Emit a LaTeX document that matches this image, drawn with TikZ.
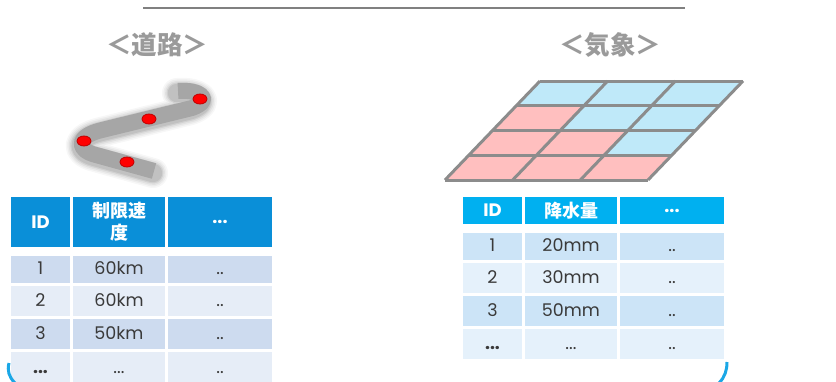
\documentclass[tikz,border=0pt]{standalone}
\usepackage{fontspec}
\setmainfont{Poppins}
\newfontfamily\cjk{Noto Sans CJK JP}
\definecolor{titlegray}{HTML}{9A9A9A}
\definecolor{rulegray}{HTML}{808080}
\definecolor{roadgray}{HTML}{A6A6A6}
\definecolor{gridline}{HTML}{8C8C8C}
\definecolor{cellblue}{HTML}{BFE9F9}
\definecolor{cellpink}{HTML}{FFBFBF}
\definecolor{hdrL}{HTML}{0A8FD8}
\definecolor{hdrR}{HTML}{00B0F0}
\definecolor{rowLa}{HTML}{CDDBEF}
\definecolor{rowLb}{HTML}{E6EDF7}
\definecolor{rowRa}{HTML}{CCE4F7}
\definecolor{rowRb}{HTML}{E5F1FB}
\definecolor{txtgray}{HTML}{3A3A3A}
\definecolor{bracketblue}{HTML}{1AA7E6}
\tikzset{
  cell/.style={anchor=north west, inner sep=0pt, outer sep=0pt,
    text height=13pt, text depth=3pt, text=txtgray,
    font=\fontsize{17.5}{20}\selectfont},
  hcell/.style={anchor=north west, inner sep=0pt, outer sep=0pt, text=white,
    align=center, font=\fontsize{18}{22}\selectfont\bfseries},
  title/.style={text=titlegray, font=\cjk\bfseries\fontsize{25.5}{28}\selectfont},
  stop/.style={ellipse, draw=red!75!black, fill=red, line width=0.8pt,
    minimum width=14pt, minimum height=10pt, inner sep=0pt},
}
% data rows of the road table (left) and the weather table (right)
\newcommand{\roadrow}[7]{%
  \node[cell, fill=#4, minimum width=59pt, minimum height=#3pt] (#1a) at (11,#2) {#5};
  \node[cell, fill=#4, minimum width=92pt, minimum height=#3pt] (#1b) at (73,#2) {#6};
  \node[cell, fill=#4, minimum width=104pt, minimum height=#3pt] (#1c) at (168,#2) {#7};}
\newcommand{\wxrow}[7]{%
  \node[cell, fill=#4, minimum width=59pt, minimum height=#3pt] (#1a) at (463,#2) {#5};
  \node[cell, fill=#4, minimum width=92pt, minimum height=#3pt] (#1b) at (525,#2) {#6};
  \node[cell, fill=#4, minimum width=104pt, minimum height=#3pt] (#1c) at (620,#2) {#7};}
\usetikzlibrary{shapes.geometric}
\begin{document}
\begin{tikzpicture}[x=1pt, y=-1pt]
\useasboundingbox (0,0) rectangle (836,381);
\clip (0,0) rectangle (836,381);

% top rule
\coordinate (ruleL) at (143,8);
\coordinate (ruleR) at (685,8);
\draw[rulegray, line width=2.5pt] (ruleL) -- (ruleR);

% titles
\node[title] (roadtitle) at (157,45) {＜道路＞};
\node[title] (wxtitle) at (610,45) {＜気象＞};

% road with soft shadow
\def\roadpath{(178,91) .. controls (200,89) and (214,100) .. (192,108)
  -- (102,130) .. controls (76,136) and (76,150) .. (96,155) -- (154,171)}
\foreach \w/\o in {30/0.03, 27/0.04, 24/0.05, 21/0.07, 18.5/0.08}
  \draw[black, opacity=\o, line width=\w pt, line join=round, line cap=round, shift={(-1,2)}] \roadpath;
\draw[roadgray, line width=16pt, line join=round] \roadpath;
\node[stop] (stop1) at (200,99) {};
\node[stop] (stop2) at (149,119) {};
\node[stop] (stop3) at (84,141) {};
\node[stop] (stop4) at (127,162) {};

% weather grid (sheared 3x4 cells)
\begin{scope}[shift={(540,81)}, x={(203pt,0pt)}, y={(-95pt,-99pt)}]
  \foreach \c/\r/\col in {0/0/cellblue,1/0/cellblue,2/0/cellblue,
                          0/1/cellpink,1/1/cellblue,2/1/cellblue,
                          0/2/cellpink,1/2/cellpink,2/2/cellblue,
                          0/3/cellpink,1/3/cellpink,2/3/cellpink}
    \fill[\col] ({\c/3},{\r/4}) -- ({(\c+1)/3},{\r/4}) -- ({(\c+1)/3},{(\r+1)/4})
      -- ({\c/3},{(\r+1)/4}) -- cycle;
  \foreach \r in {0,1,2,3,4}
    \draw[gridline, line width=3pt] (0,{\r/4}) -- (1,{\r/4});
  \foreach \c in {0,1,2,3}
    \draw[gridline, line width=3pt] ({\c/3},0) -- ({\c/3},1);
\end{scope}

% road table
\node[hcell, fill=hdrL, minimum width=59pt, minimum height=50pt] (rhA) at (11,197) {ID};
\node[hcell, fill=hdrL, minimum width=92pt, minimum height=50pt] (rhB) at (73,197) {\cjk\bfseries 制限速\\\cjk\bfseries 度};
\node[hcell, fill=hdrL, minimum width=104pt, minimum height=50pt] (rhC) at (168,197) {...};
\roadrow{r1}{256}{27}{rowLa}{1}{60km}{..}
\roadrow{r2}{286}{30}{rowLb}{2}{60km}{..}
\roadrow{r3}{319}{30}{rowLa}{3}{50km}{..}
\roadrow{r4}{352}{32}{rowLb}{\bfseries...}{...}{..}

% weather table
\node[hcell, fill=hdrR, minimum width=59pt, minimum height=27pt] (whA) at (463,197) {ID};
\node[hcell, fill=hdrR, minimum width=92pt, minimum height=27pt] (whB) at (525,197) {\cjk\bfseries 降水量};
\node[hcell, fill=hdrR, minimum width=104pt, minimum height=27pt] (whC) at (620,197) {...};
\wxrow{w1}{233}{27}{rowRa}{1}{20mm}{..}
\wxrow{w2}{263}{30}{rowRb}{2}{30mm}{..}
\wxrow{w3}{296}{30}{rowRa}{3}{50mm}{..}
\wxrow{w4}{329}{30}{rowRb}{\bfseries...}{...}{..}

% bracket ends along the bottom edge
\draw[bracketblue, line width=3pt] (9,363) .. controls (7,371) and (9,377) .. (15,383);
\draw[bracketblue, line width=3pt] (727,362) .. controls (727,370) and (725,377) .. (719,383);
\end{tikzpicture}
\end{document}
